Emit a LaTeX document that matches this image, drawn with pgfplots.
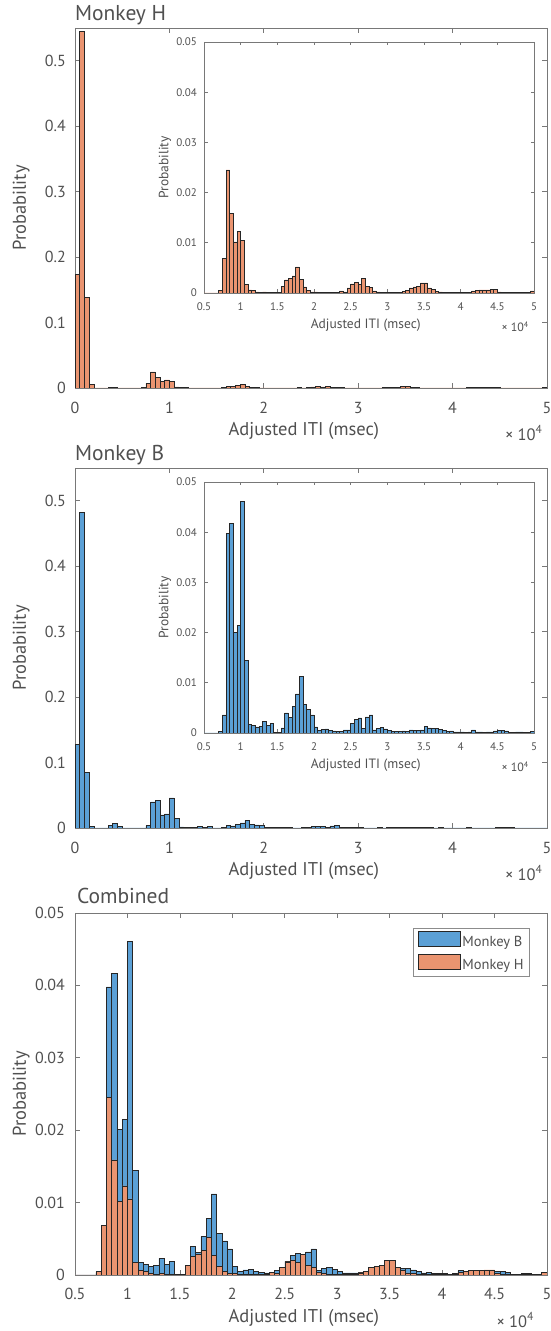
\documentclass[border=0pt]{standalone}
\usepackage{fontspec}
\setmainfont{PT Sans}
\usepackage{pgfplots}
\usepackage{pgfplotstable}
\pgfplotsset{compat=1.18}

\definecolor{mblue}{RGB}{91,160,214}
\definecolor{morange}{RGB}{234,148,112}
\definecolor{txt}{RGB}{80,80,80}
\definecolor{axc}{RGB}{120,120,120}
\newcommand\fs[1]{\fontsize{#1}{#1}\selectfont}

% histogram bins, left edge (msec) and probability; last row closes the final bin
\pgfplotstableread{
x y
0 0.173
500 0.545
1000 0.138
1500 0.005
2000 0
2500 0
3000 0
3500 0.0008
4000 0.0008
4500 0
5000 0
5500 0
6000 0
6500 0
7000 0.0005
7500 0.0069
8000 0.0245
8500 0.0159
9000 0.0102
9500 0.0123
10000 0.0105
10500 0.0017
11000 0.0006
11500 0.0005
12000 0.0002
12500 0.0001
13000 0.0002
13500 0.0001
14000 0.0001
14500 0.0001
15000 0.0001
15500 0.0013
16000 0.0026
16500 0.0029
17000 0.0034
17500 0.0052
18000 0.0027
18500 0.0012
19000 0.0005
19500 0.0002
20000 0.0002
20500 0.0001
21000 0.0001
21500 0.0001
22000 0.0001
22500 0.0001
23000 0.0001
23500 0.0004
24000 0.0002
24500 0.0010
25000 0.0018
25500 0.0021
26000 0.0017
26500 0.0029
27000 0.0013
27500 0.0011
28000 0.0004
28500 0.0002
29000 0.0001
29500 0.0001
30000 0.0001
30500 0.0001
31000 0.0001
31500 0.0001
32000 0.0003
32500 0.0005
33000 0.0010
33500 0.0012
34000 0.0013
34500 0.0020
35000 0.0020
35500 0.0010
36000 0.0007
36500 0.0003
37000 0.0002
37500 0.0001
38000 0.0001
38500 0.0001
39000 0.0001
39500 0.0001
40000 0.0001
40500 0.0001
41000 0.0001
41500 0.0004
42000 0.0005
42500 0.0006
43000 0.0006
43500 0.0006
44000 0.0007
44500 0.0007
45000 0.0002
45500 0.0001
46000 0.0001
46500 0.0001
47000 0.0001
47500 0.0001
48000 0.0001
48500 0.0001
49000 0.0001
49500 0.0004
50000 0
}\histH

\pgfplotstableread{
x y
0 0.128
500 0.482
1000 0.085
1500 0.003
2000 0
2500 0
3000 0
3500 0.0036
4000 0.0066
4500 0.0025
5000 0
5500 0
6000 0
6500 0
7000 0.0003
7500 0.0036
8000 0.0398
8500 0.0417
9000 0.0201
9500 0.0215
10000 0.0461
10500 0.0145
11000 0.0017
11500 0.0015
12000 0.0012
12500 0.0013
13000 0.0023
13500 0.0015
14000 0.0019
14500 0.0001
15000 0.0001
15500 0.0010
16000 0.0040
16500 0.0031
17000 0.0053
17500 0.0078
18000 0.0112
18500 0.0057
19000 0.0047
19500 0.0036
20000 0.0012
20500 0.0005
21000 0.0007
21500 0.0008
22000 0.0005
22500 0.0004
23000 0.0003
23500 0.0003
24000 0.0006
24500 0.0006
25000 0.0019
25500 0.0027
26000 0.0030
26500 0.0009
27000 0.0032
27500 0.0036
28000 0.0006
28500 0.0009
29000 0.0011
29500 0.0008
30000 0.0005
30500 0.0003
31000 0.0003
31500 0.0003
32000 0.0004
32500 0.0003
33000 0.0006
33500 0.0005
34000 0.0005
34500 0.0006
35000 0.0013
35500 0.0010
36000 0.0009
36500 0.0009
37000 0.0007
37500 0.0005
38000 0.0003
38500 0.0004
39000 0.0002
39500 0.0002
40000 0.0002
40500 0.0001
41000 0.0002
41500 0.0006
42000 0.0002
42500 0.0002
43000 0.0001
43500 0.0002
44000 0.0002
44500 0.0004
45000 0.0005
45500 0.0005
46000 0.0004
46500 0.0001
47000 0.0001
47500 0.0002
48000 0.0002
48500 0.0001
49000 0.0001
49500 0.0003
50000 0
}\histB

\pgfplotsset{
  panel/.style={
    scale only axis,
    scaled x ticks=false, scaled y ticks=false,
    clip mode=individual,
    axis line style={axc,line width=0.6pt},
    every tick/.style={axc,line width=0.6pt},
    tick align=inside, tick pos=both,
    ymin=0,
    yticklabel style={anchor=east,inner sep=0pt,text=txt},
    xticklabel style={anchor=base,inner sep=0pt,text=txt},
    every axis title/.style={anchor=base west,inner sep=0pt,text=txt,font=\fs{21.5}},
    every axis x label/.style={anchor=center,text=txt},
    every axis y label/.style={anchor=center,rotate=90,text=txt},
  },
  big/.style={
    panel, width=472pt, height=360pt,
    xmin=0, xmax=50000, ymax=0.55,
    xtick={0,10000,20000,30000,40000,50000}, xticklabels={0,1,2,3,4,5},
    ytick={0,0.1,0.2,0.3,0.4,0.5}, yticklabels={0,0.1,0.2,0.3,0.4,0.5},
    major tick length=5pt,
    xticklabel style={font=\fs{16},yshift=-26pt},
    yticklabel style={font=\fs{16},xshift=-9pt},
    title style={at={(axis description cs:0,1)},yshift=7pt},
    xlabel style={at={(axis description cs:0.485,-0.12)},font=\fs{18.5}},
    ylabel style={at={(axis description cs:-0.114,0.5)},font=\fs{18.5}},
    xlabel={Adjusted ITI (msec)}, ylabel={Probability},
  },
  small/.style={
    panel, width=330pt, height=251pt,
    xmin=5000, xmax=50000, ymax=0.05,
    axis background/.style={fill=white},
    xtick={5000,10000,15000,20000,25000,30000,35000,40000,45000,50000},
    xticklabels={0.5,1,1.5,2,2.5,3,3.5,4,4.5,5},
    ytick={0,0.01,0.02,0.03,0.04,0.05}, yticklabels={0,0.01,0.02,0.03,0.04,0.05},
    major tick length=3.5pt,
    xticklabel style={font=\fs{11},yshift=-18pt},
    yticklabel style={font=\fs{11},xshift=-7pt},
    xlabel style={at={(axis description cs:0.49,-0.128)},font=\fs{13.5}},
    ylabel style={at={(axis description cs:-0.118,0.5)},font=\fs{13.5}},
    xlabel={Adjusted ITI (msec)}, ylabel={Probability},
  },
  hbar/.style={ybar interval,fill=morange,draw=black!85,line width=0.55pt},
  bbar/.style={ybar interval,fill=mblue,draw=black!85,line width=0.55pt},
}

\begin{document}
\begin{tikzpicture}
\useasboundingbox (0,0) rectangle (551pt,1331pt);

% ---------- Monkey H ----------
\begin{axis}[big, at={(75pt,943pt)}, anchor=south west, title={Monkey H}]
\addplot[hbar] table {\histH};
\node[anchor=east,text=txt,font=\fs{16.5}] at (axis description cs:0.998,-0.125) {× 10\textsuperscript{4}};
\end{axis}
\begin{axis}[small, at={(204pt,1038pt)}, anchor=south west]
\addplot[hbar, restrict x to domain=5000:50000] table {\histH};
\node[anchor=east,text=txt,font=\fs{12}] at (axis description cs:0.995,-0.135) {× 10\textsuperscript{4}};
\end{axis}

% ---------- Monkey B ----------
\begin{axis}[big, at={(75pt,503pt)}, anchor=south west, title={Monkey B}]
\addplot[bbar] table {\histB};
\node[anchor=east,text=txt,font=\fs{16.5}] at (axis description cs:0.998,-0.125) {× 10\textsuperscript{4}};
\end{axis}
\begin{axis}[small, at={(204pt,598pt)}, anchor=south west]
\addplot[bbar, restrict x to domain=5000:50000] table {\histB};
\node[anchor=east,text=txt,font=\fs{12}] at (axis description cs:0.995,-0.135) {× 10\textsuperscript{4}};
\end{axis}

% ---------- Combined ----------
\begin{axis}[panel, at={(75pt,56pt)}, anchor=south west,
  width=472pt, height=362pt,
  xmin=5000, xmax=50000, ymax=0.05,
  xtick={5000,10000,15000,20000,25000,30000,35000,40000,45000,50000},
  xticklabels={0.5,1,1.5,2,2.5,3,3.5,4,4.5,5},
  ytick={0,0.01,0.02,0.03,0.04,0.05}, yticklabels={0,0.01,0.02,0.03,0.04,0.05},
  major tick length=5pt,
  xticklabel style={font=\fs{16},yshift=-24pt},
  yticklabel style={font=\fs{16},xshift=-10pt},
  title style={at={(axis description cs:0.004,1)},yshift=9pt},
  title={Combined},
  xlabel style={at={(axis description cs:0.485,-0.118)},font=\fs{18.5}},
  ylabel style={at={(axis description cs:-0.114,0.5)},font=\fs{18.5}},
  xlabel={Adjusted ITI (msec)}, ylabel={Probability},
  legend style={at={(0.964,0.959)},anchor=north east,draw=black!45,line width=0.6pt,
    fill=white,font=\fs{14.5},text=txt,inner xsep=4pt,inner ysep=3pt,
    row sep=4pt,cells={anchor=west}},
  legend image code/.code={\draw[#1] (0pt,-4pt) rectangle (42pt,11pt);},
]
\addplot[bbar, restrict x to domain=5000:50000] table {\histB};
\addlegendentry{Monkey B}
\addplot[hbar, restrict x to domain=5000:50000] table {\histH};
\addlegendentry{Monkey H}
\node[anchor=east,text=txt,font=\fs{16.5}] at (axis description cs:0.98,-0.124) {× 10\textsuperscript{4}};
\end{axis}
\end{tikzpicture}
\end{document}
